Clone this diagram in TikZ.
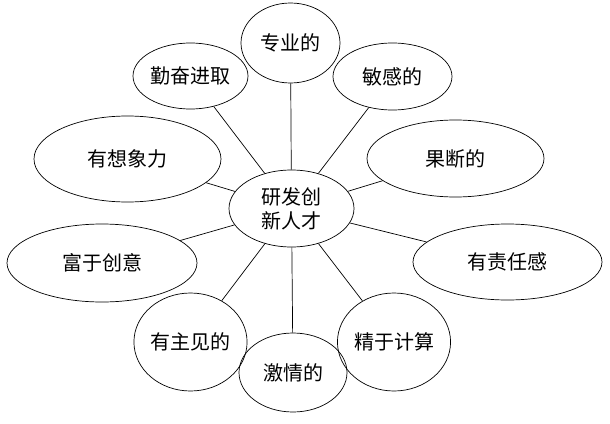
\documentclass[tikz,border=0pt]{standalone}
\usepackage{fontspec}
\newfontfamily\cjk{Noto Sans CJK SC}
\usetikzlibrary{shapes.geometric}
\begin{document}
\begin{tikzpicture}[x=1pt,y=-1pt,
  bub/.style={draw, line width=0.7pt, ellipse, inner sep=0pt, font=\cjk\fontsize{20}{24}\selectfont, align=center},
  link/.style={line width=0.7pt}]
\useasboundingbox (0,0) rectangle (610,423);
\node[bub, minimum width=125pt, minimum height=77pt] (c) at (291.5,208.5) {研发创\\新人才};
\node[bub, minimum width=99pt, minimum height=80pt] (zy) at (290.5,43) {专业的};
\node[bub, minimum width=115pt, minimum height=66pt] (qf) at (190.5,76) {勤奋进取};
\node[bub, minimum width=119pt, minimum height=67pt] (mg) at (392.5,76.5) {敏感的};
\node[bub, minimum width=187pt, minimum height=86pt] (xx) at (127.5,159) {有想象力};
\node[bub, minimum width=177pt, minimum height=77pt] (gd) at (455.5,158.5) {果断的};
\node[bub, minimum width=190pt, minimum height=78pt] (cy) at (102,263) {富于创意};
\node[bub, minimum width=189pt, minimum height=76pt] (zr) at (507.5,262) {有责任感};
\node[bub, minimum width=107pt, minimum height=98pt] (zj) at (190.5,342) {有主见的};
\node[bub, minimum width=108pt, minimum height=79pt] (jq) at (293,372.5) {激情的};
\node[bub, minimum width=108pt, minimum height=98pt] (js) at (394,342) {精于计算};
\foreach \n in {zy,qf,mg,xx,gd,cy,zr,zj,jq,js}
  \draw[link] (c) -- (\n);
\end{tikzpicture}
\end{document}
